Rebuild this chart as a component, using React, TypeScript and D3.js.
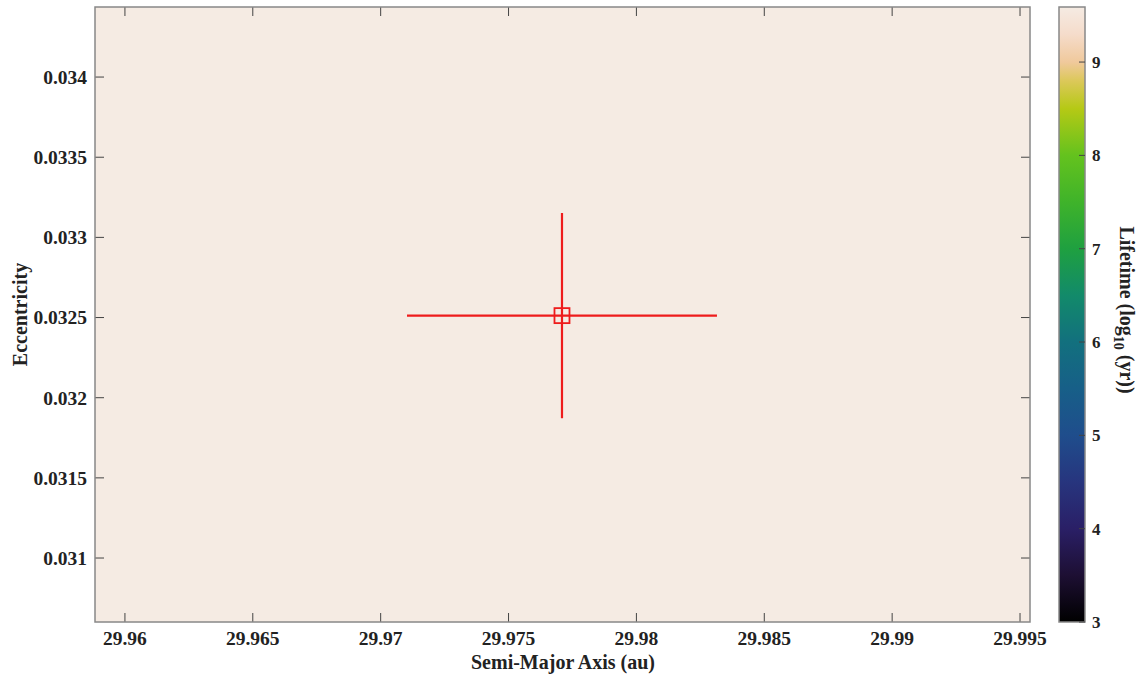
import { useEffect, useRef } from 'react';
import * as d3 from 'd3';

// data
const xTicks = [29.96, 29.965, 29.97, 29.975, 29.98, 29.985, 29.99, 29.995];
const yTicks = [0.031, 0.0315, 0.032, 0.0325, 0.033, 0.0335, 0.034];
const cbTicks = [3, 4, 5, 6, 7, 8, 9];
const xDomain = [29.95883, 29.99539];
const yDomain = [0.030601, 0.034437];
const cbDomain = [3, 9.59];
// colormap stops (value, colour)
const cmapValues = [3, 3.5, 4, 4.5, 5, 5.5, 6, 6.5, 7, 7.5, 8, 8.5, 8.8, 9, 9.3, 9.59];
const cmapColors = ['#000000', '#1d0f33', '#2a1f66', '#27357e', '#1f4d8c', '#175f88', '#12707e', '#128a6a', '#1fa040', '#3fb32a', '#64c21e', '#b5c915', '#dcc85a', '#f0c99c', '#f5dccb', '#f5ebe3'];
// the single point with its error bars
const pointA = [29.97709];
const pointE = [0.032512];
const errA = [0.00606];
const errE = [0.00064];
const lifetime = [9.6];

export default function App() {
  const ref = useRef<SVGSVGElement>(null);

  useEffect(() => {
    const svg = d3.select(ref.current);
    svg.selectAll('*').remove();
    const L = 95, R = 1030, T = 7, B = 622;
    const font = '"Liberation Serif", "Times New Roman", serif';
    const x = d3.scaleLinear().domain(xDomain).range([L, R]);
    const y = d3.scaleLinear().domain(yDomain).range([B, T]);
    const cbColor = d3.scaleLinear<string>().domain(cmapValues).range(cmapColors);
    const txt = '#222';

    // background fill (field colour = lifetime)
    svg.append('rect').attr('x', L).attr('y', T).attr('width', R - L).attr('height', B - T)
      .attr('fill', cbColor(Math.min(lifetime[0], cbDomain[1])));

    const tickLen = 9;
    const tickCol = '#444';
    // x ticks bottom + top
    xTicks.forEach(t => {
      svg.append('line').attr('x1', x(t)).attr('x2', x(t)).attr('y1', B).attr('y2', B - tickLen).attr('stroke', tickCol);
      svg.append('line').attr('x1', x(t)).attr('x2', x(t)).attr('y1', T).attr('y2', T + tickLen).attr('stroke', tickCol);
      svg.append('text').attr('x', x(t)).attr('y', 645).attr('text-anchor', 'middle')
        .attr('font-family', font).attr('font-weight', 'bold').attr('font-size', 19.5).attr('fill', txt)
        .text(String(t));
    });
    yTicks.forEach(t => {
      svg.append('line').attr('x1', L).attr('x2', L + tickLen).attr('y1', y(t)).attr('y2', y(t)).attr('stroke', tickCol);
      svg.append('line').attr('x1', R).attr('x2', R - tickLen).attr('y1', y(t)).attr('y2', y(t)).attr('stroke', tickCol);
      svg.append('text').attr('x', L - 8).attr('y', y(t)).attr('dy', '0.35em').attr('text-anchor', 'end')
        .attr('font-family', font).attr('font-weight', 'bold').attr('font-size', 19.5).attr('fill', txt)
        .text(String(t));
    });

    // frame
    svg.append('rect').attr('x', L).attr('y', T).attr('width', R - L).attr('height', B - T)
      .attr('fill', 'none').attr('stroke', '#888').attr('stroke-width', 1.5);

    // error bars and marker
    const red = '#ee1c1c';
    pointA.forEach((a, i) => {
      const e = pointE[i];
      svg.append('line').attr('x1', x(a - errA[i])).attr('x2', x(a + errA[i])).attr('y1', y(e)).attr('y2', y(e))
        .attr('stroke', red).attr('stroke-width', 2.2);
      svg.append('line').attr('x1', x(a)).attr('x2', x(a)).attr('y1', y(e + errE[i])).attr('y2', y(e - errE[i]))
        .attr('stroke', red).attr('stroke-width', 2.2);
      svg.append('rect').attr('x', x(a) - 7.5).attr('y', y(e) - 7.5).attr('width', 15).attr('height', 15)
        .attr('fill', 'none').attr('stroke', red).attr('stroke-width', 1.8);
    });

    // axis labels
    svg.append('text').attr('x', 563).attr('y', 669).attr('text-anchor', 'middle')
      .attr('font-family', font).attr('font-weight', 'bold').attr('font-size', 20).attr('fill', txt)
      .text('Semi-Major Axis (au)');
    svg.append('text').attr('transform', `translate(27,${(T + B) / 2}) rotate(-90)`).attr('text-anchor', 'middle')
      .attr('font-family', font).attr('font-weight', 'bold').attr('font-size', 20).attr('fill', txt)
      .text('Eccentricity');

    // colorbar
    const cbL = 1059, cbW = 26;
    const cy = d3.scaleLinear().domain(cbDomain).range([B, T]);
    const defs = svg.append('defs');
    const grad = defs.append('linearGradient').attr('id', 'cb').attr('x1', 0).attr('y1', 1).attr('x2', 0).attr('y2', 0);
    cmapValues.forEach((v, i) => {
      grad.append('stop').attr('offset', (v - cbDomain[0]) / (cbDomain[1] - cbDomain[0])).attr('stop-color', cmapColors[i]);
    });
    svg.append('rect').attr('x', cbL).attr('y', T).attr('width', cbW).attr('height', B - T).attr('fill', 'url(#cb)');
    svg.append('rect').attr('x', cbL).attr('y', T).attr('width', cbW).attr('height', B - T)
      .attr('fill', 'none').attr('stroke', '#888').attr('stroke-width', 1.5);
    cbTicks.forEach(t => {
      svg.append('line').attr('x1', cbL + cbW).attr('x2', cbL + cbW - 6).attr('y1', cy(t)).attr('y2', cy(t)).attr('stroke', tickCol);
      svg.append('text').attr('x', cbL + cbW + 7).attr('y', cy(t)).attr('dy', '0.35em')
        .attr('font-family', font).attr('font-weight', 'bold').attr('font-size', 17).attr('fill', txt)
        .text(String(t));
    });
    const lbl = svg.append('text').attr('transform', `translate(1120,310) rotate(90)`).attr('text-anchor', 'middle')
      .attr('font-family', font).attr('font-weight', 'bold').attr('font-size', 20).attr('fill', txt);
    lbl.append('tspan').text('Lifetime (log');
    lbl.append('tspan').attr('font-size', 14).attr('dy', 6).text('10');
    lbl.append('tspan').attr('dy', -6).text(' (yr))');
  }, []);

  return <svg ref={ref} width={1141} height={679} style={{ display: 'block', position: 'absolute', left: 0, top: 0 }} />;
}
